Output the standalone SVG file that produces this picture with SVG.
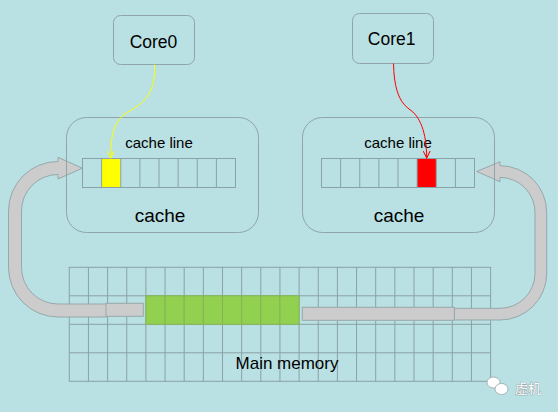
<svg xmlns="http://www.w3.org/2000/svg" width="558" height="412" viewBox="0 0 558 412">
<style>
.box{fill:none;stroke:#8fa5a9;stroke-width:1}
.cell{fill:none;stroke:#8aa2a6;stroke-width:1}
.grid{fill:none;stroke:#8aa2a6;stroke-width:1}
.band{fill:#cccccc;stroke:#97a8aa;stroke-width:1}
.t{font-family:"Liberation Sans",Arial,sans-serif;fill:#000;text-anchor:middle}
</style>
<defs>
<marker id="ay" viewBox="0 0 8 8" refX="7" refY="4" markerWidth="8" markerHeight="8" markerUnits="userSpaceOnUse" orient="auto">
<path d="M0,0.5 L7,4 L0,7.5" fill="none" stroke="#ffff00" stroke-width="1"/>
</marker>
<marker id="ar" viewBox="0 0 8 8" refX="7" refY="4" markerWidth="8" markerHeight="8" markerUnits="userSpaceOnUse" orient="auto">
<path d="M0,0.5 L7,4 L0,7.5" fill="none" stroke="#ff0000" stroke-width="1"/>
</marker>
</defs>
<rect x="0" y="0" width="558" height="412" fill="#b9e0e3"/>

<g id="memory">
<rect x="69.3" y="267.3" width="421.3" height="114" class="grid"/>
<path class="grid" d="M69.3,295.8H490.6M69.3,324.3H490.6M69.3,352.8H490.6
M88.45,267.3V381.3M107.6,267.3V381.3M126.75,267.3V381.3M145.9,267.3V381.3M165.05,267.3V381.3M184.2,267.3V381.3M203.35,267.3V381.3M222.5,267.3V381.3M241.65,267.3V381.3M260.8,267.3V381.3M279.95,267.3V381.3M299.1,267.3V381.3M318.25,267.3V381.3M337.4,267.3V381.3M356.55,267.3V381.3M375.7,267.3V381.3M394.85,267.3V381.3M414,267.3V381.3M433.15,267.3V381.3M452.3,267.3V381.3M471.45,267.3V381.3"/>
<g fill="#92d050" stroke="#86b455" stroke-width="1">
<rect x="145.9" y="295.8" width="19.15" height="28.5"/>
<rect x="165.05" y="295.8" width="19.15" height="28.5"/>
<rect x="184.2" y="295.8" width="19.15" height="28.5"/>
<rect x="203.35" y="295.8" width="19.15" height="28.5"/>
<rect x="222.5" y="295.8" width="19.15" height="28.5"/>
<rect x="241.65" y="295.8" width="19.15" height="28.5"/>
<rect x="260.8" y="295.8" width="19.15" height="28.5"/>
<rect x="279.95" y="295.8" width="19.15" height="28.5"/>
</g>
<text class="t" x="287" y="368.5" font-size="17">Main memory</text>
</g>

<g id="arrows">
<path class="band" d="M107.7,317 H58 A49.5,49.5 0 0 1 8.5,267.5 V211 A49.5,49.5 0 0 1 58,161.5 V157.3 L82.3,168.2 L58,179 V174.5 A36.5,36.5 0 0 0 21.5,211 V267.5 A36.5,36.5 0 0 0 58,304 H107.7 Z"/>
<rect class="band" x="106" y="303.3" width="37.3" height="13"/>
<path class="band" d="M454.3,308.3 H500 A35,35 0 0 0 535,273.3 V212.4 A35,35 0 0 0 500,177.4 V181.7 L476.7,171.5 L500,161.7 V165.7 A46.7,46.7 0 0 1 546.7,212.4 V273.3 A46.7,46.7 0 0 1 500,320 H454.3 Z"/>
<rect class="band" x="302.3" y="307.3" width="152" height="13"/>
</g>

<g id="cache0">
<rect class="box" x="66.5" y="117.5" width="192" height="115" rx="20"/>
<text class="t" x="159" y="148" font-size="15">cache line</text>
<rect x="101.6" y="158.5" width="19.1" height="29" fill="#ffff00"/>
<rect class="cell" x="82.5" y="158.5" width="153" height="29"/>
<path class="cell" d="M101.6,158.5V187.5M120.75,158.5V187.5M139.9,158.5V187.5M159,158.5V187.5M178.1,158.5V187.5M197.25,158.5V187.5M216.4,158.5V187.5"/>
<text class="t" x="160" y="222" font-size="19">cache</text>
</g>

<g id="cache1">
<rect class="box" x="302.5" y="117.5" width="192" height="115" rx="20"/>
<text class="t" x="398" y="148" font-size="15">cache line</text>
<rect x="417.1" y="158.5" width="19.1" height="29" fill="#ff0000"/>
<rect class="cell" x="321.5" y="158.5" width="153" height="29"/>
<path class="cell" d="M340.6,158.5V187.5M359.75,158.5V187.5M378.9,158.5V187.5M398,158.5V187.5M417.1,158.5V187.5M436.25,158.5V187.5M455.4,158.5V187.5"/>
<text class="t" x="399" y="222" font-size="19">cache</text>
</g>

<g id="core0">
<rect class="box" x="113.5" y="15.5" width="81" height="49" rx="7"/>
<text class="t" x="153.5" y="47.5" font-size="17.5">Core0</text>
</g>
<g id="core1">
<rect class="box" x="352.5" y="13.5" width="81" height="50" rx="7"/>
<text class="t" x="391.7" y="45.2" font-size="17.5">Core1</text>
</g>

<g id="connectors" fill="none" stroke-width="1">
<path d="M154.5,64.5 C156,95 142,104 128,112 C113,120 110.5,138 110.8,158" stroke="#ffff00" marker-end="url(#ay)"/>
<path d="M393.5,63.5 C394,86 398,101 409,109 C420,116 426.5,132 426.7,158" stroke="#ff0000" marker-end="url(#ar)"/>
</g>

<g id="watermark">
<ellipse cx="493.5" cy="382.5" rx="6.5" ry="5.5" fill="#ffffff" stroke="#9aa5a7" stroke-width="0.8"/>
<ellipse cx="501.5" cy="389" rx="6.5" ry="5.5" fill="#ffffff" stroke="#9aa5a7" stroke-width="0.8"/>
<text x="515" y="393" font-size="13" font-family="'Noto Sans CJK SC',sans-serif" fill="#ffffff" stroke="#7f8a8c" stroke-width="0.6" paint-order="stroke">虚机</text>
</g>
</svg>
